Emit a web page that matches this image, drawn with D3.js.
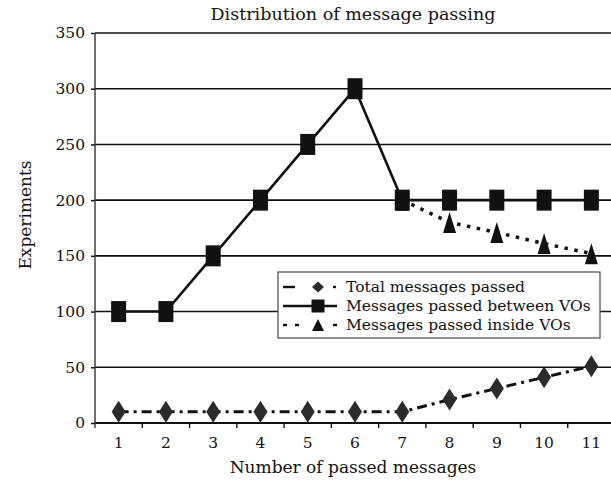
<!DOCTYPE html>
<html>
<head>
<meta charset="utf-8">
<script src="https://cdn.jsdelivr.net/npm/d3@7"></script>
<style>
  body { margin: 0; background: #fff; }
  svg { display: block; }
  text { font-family: "DejaVu Serif", serif; fill: #111; }
</style>
</head>
<body>
<svg id="chart" width="611" height="482"></svg>
<script>
// Message-passing counts per number of passed messages
const categories = [1, 2, 3, 4, 5, 6, 7, 8, 9, 10, 11];
const totalPassed = [10, 10, 10, 10, 10, 10, 10, 21, 31, 41, 51];
const betweenVOs = [100, 100, 150, 200, 250, 300, 200, 200, 200, 200, 200];
const insideVOs = [null, null, null, null, null, null, 200, 180, 171, 161, 152];
const yTicks = [0, 50, 100, 150, 200, 250, 300, 350];
const seriesNames = ["Total messages passed", "Messages passed between VOs", "Messages passed inside VOs"];

const svg = d3.select("#chart");
const plotLeft = 95, plotRight = 615, plotTop = 33, plotBottom = 423;

const x = d3.scaleBand().domain(categories).range([plotLeft, plotRight]).padding(0);
const y = d3.scaleLinear().domain([0, 350]).range([plotBottom, plotTop]);

// marker shapes (w × h boxes centred on the point)
const shape = {
  diamond: (w, h) => `M0,${-h/2}L${w/2},0L0,${h/2}L${-w/2},0Z`,
  square: (w, h) => `M${-w/2},${-h/2}H${w/2}V${h/2}H${-w/2}Z`,
  triangle: (w, h) => `M0,${-h/2}L${w/2},${h/2}L${-w/2},${h/2}Z`
};

// title
svg.append("text").attr("x", 353).attr("y", 20).attr("text-anchor", "middle")
  .style("font-size", "17.5px").text("Distribution of message passing");

// horizontal grid + y axis
const yAxis = d3.axisLeft(y).tickValues(yTicks).tickSize(4).tickPadding(6);
const gy = svg.append("g").attr("transform", `translate(${plotLeft},0)`).call(yAxis);
gy.select(".domain").remove();
gy.selectAll(".tick line").attr("stroke", "#111").attr("stroke-width", 1.5);
gy.selectAll(".tick text").style("font-size", "15.5px").attr("fill", "#111");
svg.append("g").selectAll("line").data(yTicks).join("line")
  .attr("x1", plotLeft).attr("x2", 611)
  .attr("y1", d => y(d)).attr("y2", d => y(d))
  .attr("stroke", "#111").attr("stroke-width", d => d === 0 ? 2 : 1.6);
svg.append("line").attr("x1", plotLeft).attr("x2", plotLeft)
  .attr("y1", y(350)).attr("y2", y(0) + 5)
  .attr("stroke", "#333").attr("stroke-width", 1.4);

// x axis: labels centred on categories, ticks on category boundaries
const xAxis = d3.axisBottom(x).tickSize(0).tickPadding(14);
const gx = svg.append("g").attr("transform", `translate(0,${plotBottom})`).call(xAxis);
gx.select(".domain").remove();
gx.selectAll(".tick text").style("font-size", "15.5px").attr("fill", "#111");
svg.append("g").selectAll("line").data(categories.slice(1)).join("line")
  .attr("x1", d => x(d)).attr("x2", d => x(d))
  .attr("y1", plotBottom).attr("y2", plotBottom + 5)
  .attr("stroke", "#111").attr("stroke-width", 1.4);

// axis titles
svg.append("text").attr("x", 353).attr("y", 473).attr("text-anchor", "middle")
  .style("font-size", "17px").text("Number of passed messages");
svg.append("text").attr("transform", "translate(31,215) rotate(-90)")
  .attr("text-anchor", "middle").style("font-size", "17px").text("Experiments");

const cx = d => x(d) + x.bandwidth() / 2;
const line = d3.line().defined(d => d[1] != null).x(d => cx(d[0])).y(d => y(d[1]));
const pairs = vals => categories.map((c, i) => [c, vals[i]]);

const total = { vals: totalPassed, dash: "10,5,3,5", width: 3, mark: "diamond", fill: "#2b2b2b", mw: 14, mh: 22 };
const inside = { vals: insideVOs, dash: "3.5,6.5", width: 3.5, mark: "triangle", fill: "#111", mw: 13, mh: 21 };
const between = { vals: betweenVOs, dash: null, width: 2.6, mark: "square", fill: "#111", mw: 15, mh: 21 };

[total, inside, between].forEach(s => {
  const g = svg.append("g");
  g.append("path").datum(pairs(s.vals)).attr("d", line)
    .attr("fill", "none").attr("stroke", "#111").attr("stroke-width", s.width)
    .attr("stroke-dasharray", s.dash);
  g.selectAll("path.m").data(pairs(s.vals).filter(d => d[1] != null))
    .join("path").attr("class", "m")
    .attr("transform", d => `translate(${cx(d[0])},${y(d[1])})`)
    .attr("d", shape[s.mark](s.mw, s.mh)).attr("fill", s.fill);
});

// legend
const lg = svg.append("g");
lg.append("rect").attr("x", 278).attr("y", 272).attr("width", 322).attr("height", 66)
  .attr("fill", "#fff").attr("stroke", "#555").attr("stroke-width", 1.3);
const rows = [
  { s: total, cy: 287, ms: [12, 11], segs: [[283, 295], [333, 336]] },
  { s: between, cy: 306, ms: [13, 13], segs: [[283, 337]] },
  { s: inside, cy: 325, ms: [12, 12], segs: [[283, 287], [295, 299], [333, 337]] }
];
rows.forEach((r, i) => {
  r.segs.forEach(sg => lg.append("line").attr("x1", sg[0]).attr("x2", sg[1])
    .attr("y1", r.cy).attr("y2", r.cy).attr("stroke", "#111").attr("stroke-width", 2.4));
  lg.append("path").attr("transform", `translate(318,${r.cy})`)
    .attr("d", shape[r.s.mark](r.ms[0], r.ms[1])).attr("fill", r.s.fill);
  lg.append("text").attr("x", 346).attr("y", r.cy + 5).style("font-size", "15.5px").text(seriesNames[i]);
});
</script>
</body>
</html>
